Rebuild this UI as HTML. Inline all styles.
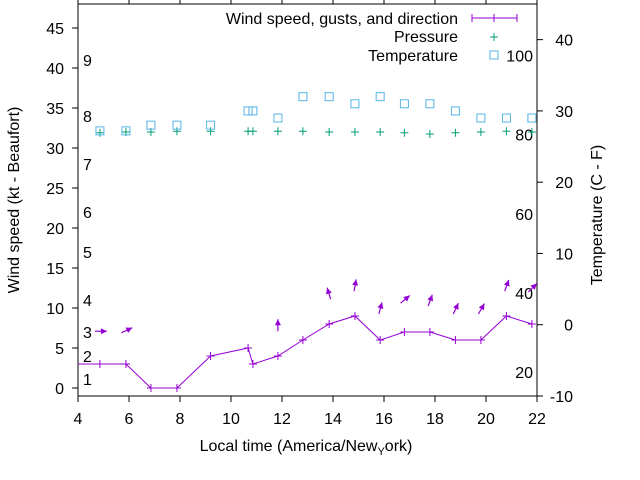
<!DOCTYPE html>
<html><head><meta charset="utf-8"><style>
html,body{margin:0;padding:0;background:#fff}
svg{display:block;font-family:"Liberation Sans",sans-serif}
</style></head><body>
<svg id="chart" width="640" height="480" viewBox="0 0 640 480" xmlns="http://www.w3.org/2000/svg">
<g id="grid-layer"></g>
<g id="marks"></g>
<text transform="translate(19,200) rotate(-90)" text-anchor="middle" font-size="16">Wind speed (kt - Beaufort)</text>
<text transform="translate(602,215) rotate(-90)" text-anchor="middle" font-size="16">Temperature (C - F)</text>
<text x="306" y="451" text-anchor="middle" font-size="16">Local time (America/New<tspan font-size="11" dy="4">Y</tspan><tspan dy="-4">ork)</tspan></text>
<g font-size="16" text-anchor="end">
<text x="458" y="24">Wind speed, gusts, and direction</text>
<text x="458" y="42">Pressure</text>
<text x="458" y="61">Temperature</text>
<g stroke="#9400d3" stroke-width="1">
<line x1="472" y1="18" x2="517" y2="18"/><line x1="472" y1="14" x2="472" y2="22"/><line x1="517" y1="14" x2="517" y2="22"/><line x1="494" y1="14" x2="494" y2="22"/></g>
<g stroke="#009e73"><line x1="490" y1="37" x2="498" y2="37"/><line x1="494" y1="33" x2="494" y2="41"/></g>
<rect x="490" y="51" width="8" height="8" fill="none" stroke="#56b4e9"/>
</g>
</svg>
<script>
const hours = [4.86,5.88,6.86,7.88,9.2,10.67,10.86,11.84,12.82,13.85,14.86,15.85,16.8,17.8,18.8,19.8,20.8,21.8];
const windSpeed = [3,3,0,0,4,5,3,4,6,8,9,6,7,7,6,6,9,8];
const gustHours = [4.86,5.88,11.84,13.85,14.86,15.85,16.8,17.8,18.8,19.8,20.8,21.8];
const gustSpeed = [7.1,6.9,7.1,11.1,12.1,9.25,10.6,10.25,9.25,9.25,12.1,12];
const gustAngle = [90,65,0,-17,10,15,50,20,25,30,20,45];
const pressure = [31.9,32,32,32.1,32.1,32.1,32.1,32.1,32.1,32,32,32,31.9,31.75,31.9,32,32.1,32];
const temperature = [27.2,27.2,28,28,28,30,30,29,32,32,31,32,31,31,30,29,29,29];
const xTicks = [4,6,8,10,12,14,16,18,20,22];
const yTicks = [0,5,10,15,20,25,30,35,40,45];
const y2Ticks = [-10,0,10,20,30,40];
const beaufortLabels = ["1","2","3","4","5","6","7","8","9"];
const beaufortY = [1.1,4,7,11,17,22,28,34,41];
const fLabels = ["20","40","60","80","100"];
const fValues = [20,40,60,80,100];

const L=78,R=537,T=4,B=396;
const X=v=>L+(v-4)/(22-4)*(R-L);
const Y=v=>B-(v+1)/(48+1)*(B-T);
const Y2=v=>B-(v+10)/(45+10)*(B-T);
const NS="http://www.w3.org/2000/svg";
function mk(tag,attrs,parent){const e=document.createElementNS(NS,tag);for(const k in attrs)e.setAttribute(k,attrs[k]);parent.appendChild(e);return e;}
const ax=document.getElementById('grid-layer');
const mg=document.getElementById('marks');
const frame=mk('rect',{x:L,y:T,width:R-L,height:B-T,fill:'none',stroke:'#000','stroke-width':1},ax);


xTicks.forEach(v=>{
  const t=mk('line',{x1:X(v),y1:B,x2:X(v),y2:B+6,stroke:'#000'},ax);
  
  
  const t2=mk('line',{x1:X(v),y1:T,x2:X(v),y2:T-6,stroke:'#000'},ax);
  
  
  const l=mk('text',{x:X(v),y:B+28,'text-anchor':'middle','font-size':16},ax);l.textContent=v;
  
  
});
yTicks.forEach(v=>{
  const t=mk('line',{x1:L-6,y1:Y(v),x2:L,y2:Y(v),stroke:'#000'},ax);
  
  
  const l=mk('text',{x:L-14,y:Y(v)+6,'text-anchor':'end','font-size':16},ax);l.textContent=v;
  
  
});
y2Ticks.forEach(v=>{
  const t=mk('line',{x1:R,y1:Y2(v),x2:R+6,y2:Y2(v),stroke:'#000'},ax);
  
  
  const l=mk('text',{x:R+36,y:Y2(v)+6,'text-anchor':'end','font-size':16},ax);l.textContent=v;
  
  
});
beaufortLabels.forEach((s,i)=>{
  const l=mk('text',{x:83,y:Y(beaufortY[i])+6,'font-size':16},ax);l.textContent=s;
  
  
});
fLabels.forEach((s,i)=>{
  const c=(fValues[i]-32)*5/9;
  const l=mk('text',{x:533,y:Y2(c)+6,'text-anchor':'end','font-size':16},ax);l.textContent=s;
  
  
});
const cp=mk('clipPath',{id:'clip'},mg);mk('rect',{x:L,y:T,width:R-L,height:B-T},cp);
const cg=mk('g',{'clip-path':'url(#clip)'},mg);
let d='M'+L+','+Y(windSpeed[0]);
hours.forEach((h,i)=>{d+=' L'+X(h)+','+Y(windSpeed[i]);});
const wl=mk('path',{d:d,fill:'none',stroke:'#9400d3','stroke-width':1},cg);


hours.forEach((h,i)=>{
  const g=mk('path',{d:`M${X(h)-4},${Y(windSpeed[i])}h8M${X(h)},${Y(windSpeed[i])-4}v8`,stroke:'#9400d3'},cg);
  
  
});
gustHours.forEach((h,i)=>{
  const a=gustAngle[i]*Math.PI/180,len=12;
  const x0=X(h)-5*Math.sin(a),y0=Y(gustSpeed[i]);
  const x1=x0+len*Math.sin(a),y1=y0-len*Math.cos(a);
  const g=mk('g',{},cg);
  
  
  mk('line',{x1:x0,y1:y0,x2:x1,y2:y1,stroke:'#9400d3','stroke-width':1.2},g);
  const bx=x1-6*Math.sin(a),by=y1+6*Math.cos(a),px=3*Math.cos(a),py=3*Math.sin(a);
  mk('polygon',{points:`${x1},${y1} ${bx+px},${by+py} ${bx-px},${by-py}`,fill:'#9400d3'},g);
});
hours.forEach((h,i)=>{
  const p=mk('path',{d:`M${X(h)-4},${Y(pressure[i])}h8M${X(h)},${Y(pressure[i])-4}v8`,stroke:'#009e73'},cg);
  
  
  const r=mk('rect',{x:X(h)-4,y:Y2(temperature[i])-4,width:8,height:8,fill:'none',stroke:'#56b4e9'},cg);
  
  
});
</script>
</body></html>
